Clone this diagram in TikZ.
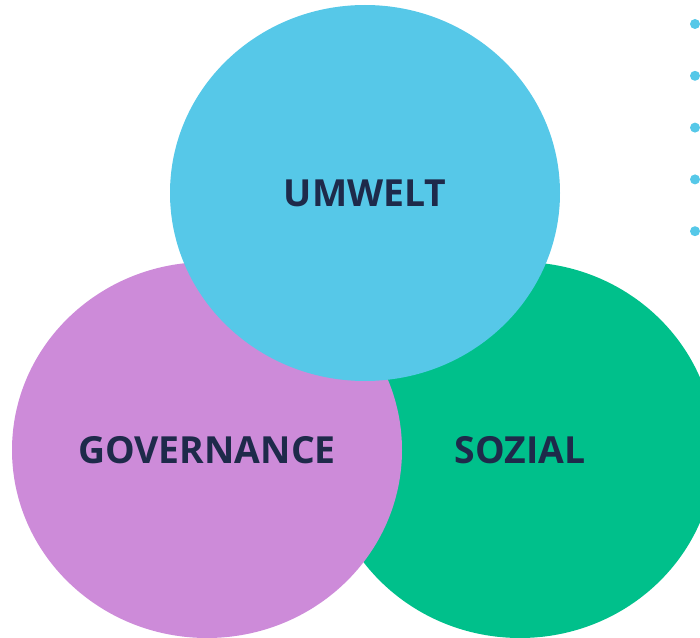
\documentclass[tikz,border=0pt]{standalone}
\usepackage{fontspec}
\setmainfont{Open Sans}
\usetikzlibrary{shapes.geometric}
\definecolor{umweltblue}{HTML}{56C8E8}
\definecolor{govpurple}{HTML}{CD8BD9}
\definecolor{sozgreen}{HTML}{00C08B}
\definecolor{labelnavy}{HTML}{1E2A4A}

\begin{document}
\begin{tikzpicture}[x=0.75pt,y=-0.75pt]
\tikzstyle{pillar}=[ellipse, minimum width=292.5pt, minimum height=282pt, inner sep=0pt,
  text=labelnavy, font=\fontsize{28}{30}\selectfont\bfseries]
\tikzstyle{bullet}=[circle, fill=umweltblue, minimum size=7.5pt, inner sep=0pt]
\useasboundingbox (0,0) rectangle (700,638);

\node[pillar, fill=sozgreen] (S) at (520,450) {SOZIAL};
\node[pillar, fill=govpurple] (G) at (207,450) {GOVERNANCE};
\node[pillar, fill=umweltblue] (U) at (365,193) {UMWELT};

\foreach \i in {0,...,4}
  \node[bullet] (b\i) at (695,24+51.8*\i) {};

\end{tikzpicture}
\end{document}
